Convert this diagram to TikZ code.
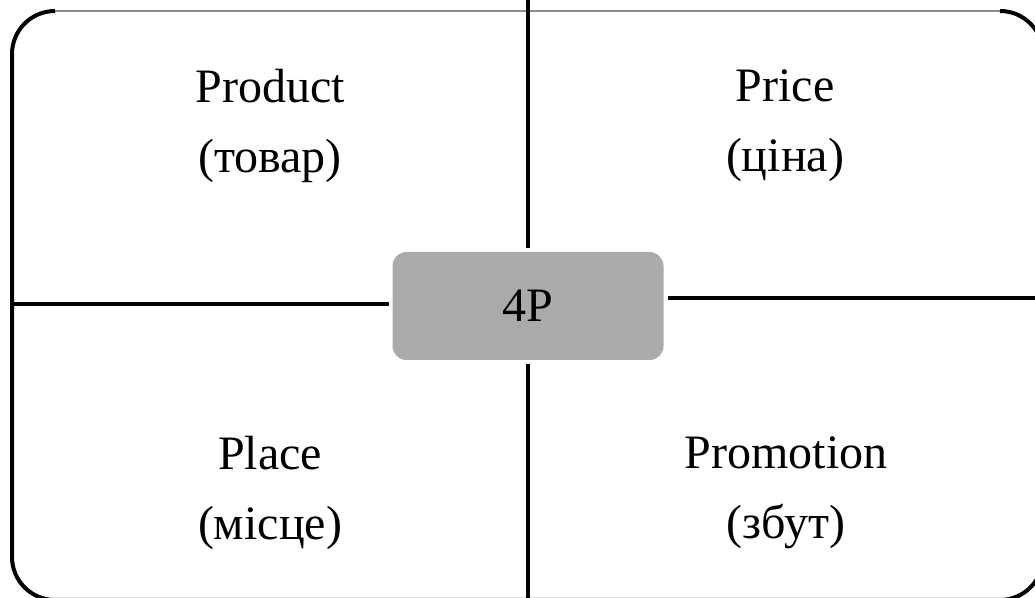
\documentclass[tikz,border=0pt]{standalone}
\usepackage{fontspec}
\setmainfont{Liberation Serif}
\usetikzlibrary{positioning}

\begin{document}
\begin{tikzpicture}[x=0.5pt,y=-0.5pt,
	quad node/.style={align=center,font=\fontsize{24}{35}\selectfont},
	core node/.style={fill=corefill,rounded corners=7pt,minimum width=135.5pt,
		minimum height=54pt,outer sep=2pt,font=\fontsize{24}{29}\selectfont},
	split/.style={line width=2.25pt}]
	
	\definecolor{corefill}{RGB}{170,170,170}
	\definecolor{topedge}{RGB}{140,140,140}
	
	\useasboundingbox (0,0) rectangle (1035,598);
	\clip (0,0) rectangle (1035,598);
	
	% frame
	\draw[topedge,line width=0.6pt] (55,11) -- (1000,11);
	\draw[line width=2pt] (55,11) arc[start angle=270,end angle=180,radius=43]
	-- (12,557) arc[start angle=180,end angle=90,radius=43]
	-- (1000,600) arc[start angle=90,end angle=0,radius=43]
	-- (1043,54) arc[start angle=0,end angle=-90,radius=43];
	
	\node[core node] (core) at (528,306) {4P};
	
	\node[quad node] (product) at (270,126) {Product\\(товар)};
	\node[quad node] (price) at (785,126) {Price\\(ціна)};
	\node[quad node] (place) at (270,493) {Place\\(місце)};
	\node[quad node] (promotion) at (786,493) {Promotion\\(збут)};
	
	\coordinate (north) at (528,0);
	\coordinate (south) at (528,598);
	\coordinate (west) at (12,304);
	\coordinate (east) at (1035,298);
	
	\draw[split] (core.north) -- (north);
	\draw[split] (core.south) -- (south);
	\draw[split] (west) -- (core.west |- west);
	\draw[split] (core.east |- east) -- (east);
\end{tikzpicture}
\end{document}
